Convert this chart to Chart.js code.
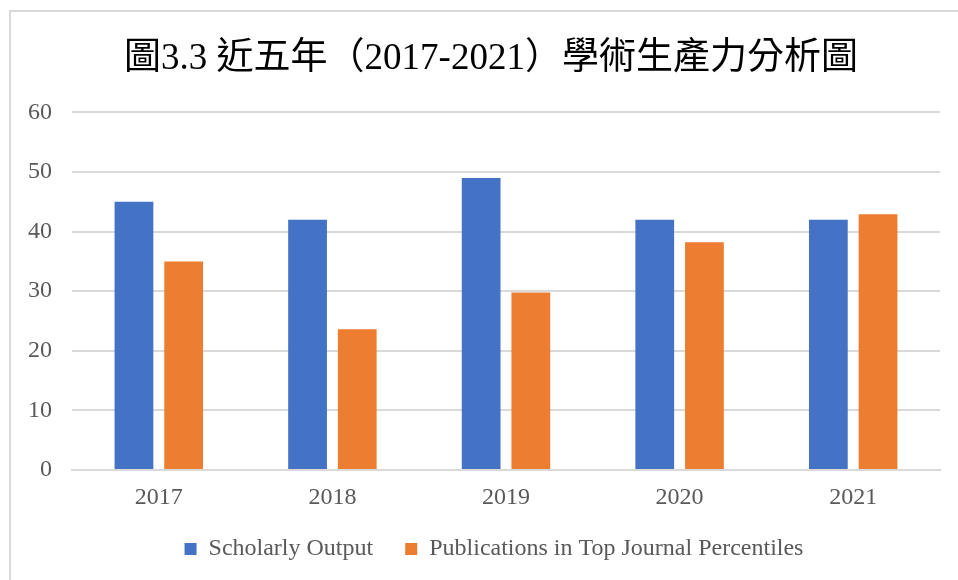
<!DOCTYPE html>
<html>
<head>
<meta charset="utf-8">
<script src="https://cdn.jsdelivr.net/npm/chart.js@4"></script>
<style>
  html, body { margin: 0; padding: 0; background: #fff; }
  .frame {
    position: absolute; left: 9px; top: 10px; width: 970px; height: 600px;
    border-left: 2px solid #d9d9d9; border-top: 2px solid #d9d9d9;
  }
  .wrap { position: absolute; left: 0; top: 0; width: 958px; height: 580px; }
</style>
</head>
<body>
<div class="frame"></div>
<div class="wrap"><canvas id="chart" width="958" height="580"></canvas></div>
<script>
const chartTitle = "圖3.3 近五年（2017-2021）學術生產力分析圖";
const years = ["2017", "2018", "2019", "2020", "2021"];
const scholarlyOutput = [45, 42, 49, 42, 42];
const topJournalPublications = [35, 23.6, 29.8, 38.2, 42.9];
const yTicks = [0, 10, 20, 30, 40, 50, 60];

const serif = "'Liberation Serif', 'Times New Roman', 'Noto Sans CJK TC', serif";

// the original chart is a bit off-centre, nudge title + legend after layout
const nudgeBoxes = {
  id: "nudgeBoxes",
  afterLayout(chart) {
    const lg = chart.legend;
    lg.left += 20;
    lg.right += 20;
    lg.top -= 21; // bottom stays, so the clip box still covers the text
    lg.height += 21;
    const tb = chart.titleBlock;
    tb.left += 17;
    tb.right += 17;
  },
};

new Chart(document.getElementById("chart"), {
  type: "bar",
  data: {
    labels: years,
    datasets: [
      {
        label: "Scholarly Output",
        data: scholarlyOutput,
        backgroundColor: "#4472C4",
      },
      {
        label: "Publications in Top Journal Percentiles",
        data: topJournalPublications,
        backgroundColor: "#ED7D31",
      },
    ],
  },
  options: {
    responsive: false,
    animation: false,
    layout: {
      padding: { left: 8, right: 18, top: 0, bottom: 9 },
    },
    datasets: {
      bar: {
        categoryPercentage: 0.5725,
        barPercentage: 0.78,
      },
    },
    plugins: {
      title: {
        display: true,
        text: chartTitle,
        color: "#000",
        font: { family: serif, size: 37, weight: "normal" },
        padding: { top: 37, bottom: 31 },
      },
      legend: {
        position: "bottom",
        maxHeight: 45,
        labels: {
          color: "#595959",
          font: { family: serif, size: 24 },
          boxWidth: 12,
          boxHeight: 12,
          padding: 32,
        },
      },
      tooltip: { enabled: false },
    },
    scales: {
      x: {
        grid: { display: false, drawTicks: false },
        border: { display: true, color: "#d9d9d9", width: 2 },
        ticks: {
          color: "#595959",
          font: { family: serif, size: 24, lineHeight: 1 },
          padding: 16,
        },
      },
      y: {
        min: 0,
        max: 60,
        afterBuildTicks: (axis) => {
          axis.ticks = yTicks.map((v) => ({ value: v }));
        },
        grid: { color: "#d9d9d9", lineWidth: 2, drawTicks: false },
        border: { display: false },
        ticks: {
          color: "#595959",
          font: { family: serif, size: 24 },
          padding: 20,
        },
      },
    },
  },
  plugins: [nudgeBoxes],
});
</script>
</body>
</html>
